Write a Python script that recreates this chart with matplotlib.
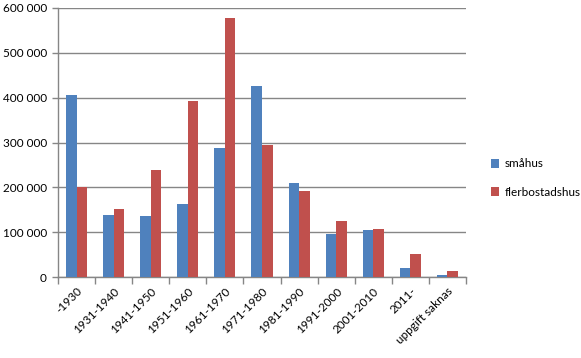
import matplotlib
matplotlib.use("Agg")
import matplotlib.pyplot as plt
import numpy as np
from matplotlib.ticker import FuncFormatter

categories = ["-1930", "1931-1940", "1941-1950", "1951-1960", "1961-1970", "1971-1980",
              "1981-1990", "1991-2000", "2001-2010", "2011-", "uppgift saknas"]
smahus = [406000, 138000, 136000, 163000, 288000, 426000, 210000, 96000, 105000, 20000, 5000]
flerbostadshus = [200000, 152000, 239000, 393000, 578000, 294000, 192000, 125000, 107000, 51000, 13000]
series_names = ["småhus", "flerbostadshus"]

plt.rcParams['font.family'] = ['Lato', 'DejaVu Sans']
fig = plt.figure(figsize=(5.81, 3.58), dpi=100)
ax = fig.add_axes([58/581, 1-277/358, (466-58)/581, (277-8)/358])

x = np.arange(len(categories))
w = 0.285
ax.bar(x - w/2, smahus, w, color="#4F81BD", label=series_names[0], zorder=3)
ax.bar(x + w/2, flerbostadshus, w, color="#C0504D", label=series_names[1], zorder=3)

ax.set_xlim(-0.5, len(categories) - 0.5)
ax.set_ylim(0, 600000)
ax.set_yticks(np.arange(0, 600001, 100000))
ax.yaxis.set_major_formatter(FuncFormatter(lambda v, p: f"{int(v):,}".replace(",", " ")))
ax.grid(axis="y", color="#868686", linewidth=1, zorder=0)

ax.set_xticks(x)
ax.set_xticklabels(categories, rotation=45, ha="right", rotation_mode="anchor", fontsize=8.5)
ax.tick_params(axis="x", length=0, pad=6)
ax.set_xticks(np.arange(-0.5, len(categories)), minor=True)
ax.tick_params(axis="x", which="minor", length=5, color="#868686", width=1)
ax.tick_params(axis="y", length=4, color="#868686", width=1, labelsize=8.5, pad=4)

for s in ["top", "right"]:
    ax.spines[s].set_visible(False)
for s in ["left", "bottom"]:
    ax.spines[s].set_color("#868686")
    ax.spines[s].set_linewidth(1)

fig.legend(loc="center left", bbox_to_anchor=(480/581, 1-178/358), frameon=False,
           fontsize=8.5, handlelength=0.75, handleheight=0.75, handletextpad=0.45,
           labelspacing=1.45)

fig.savefig("out.png", dpi=100)
